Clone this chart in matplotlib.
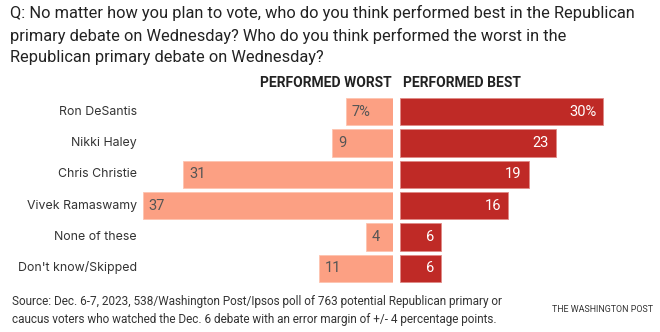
import matplotlib.pyplot as plt

# poll results, percent
candidates = ["Ron DeSantis", "Nikki Haley", "Chris Christie",
              "Vivek Ramaswamy", "None of these", "Don't know/Skipped"]
worst = [7, 9, 31, 37, 4, 11]
best = [30, 23, 19, 16, 6, 6]
worst_labels = ["7%", "9", "31", "37", "4", "11"]
best_labels = ["30%", "23", "19", "16", "6", "6"]

title = ("Q: No matter how you plan to vote, who do you think performed best in the Republican\n"
         "primary debate on Wednesday? Who do you think performed the worst in the\n"
         "Republican primary debate on Wednesday?")
source = ("Source: Dec. 6-7, 2023, 538/Washington Post/Ipsos poll of 763 potential Republican primary or\n"
          "caucus voters who watched the Dec. 6 debate with an error margin of +/- 4 percentage points.")

plt.rcParams["font.family"] = ["Roboto", "DejaVu Sans"]

W, H = 660, 332
fig = plt.figure(figsize=(W / 100, H / 100), dpi=100)

def px_axes(x0, x1, y0, y1):
    return fig.add_axes([x0 / W, 1 - y1 / H, (x1 - x0) / W, (y1 - y0) / H])

worst_color = "#FCA083"
best_color = "#BF2A26"
xmax = 38

ax_w = px_axes(136, 393, 96, 284)
ax_b = px_axes(400, 657, 96, 284)
rows = range(len(candidates))

ax_w.barh(rows, worst, height=0.87, color=worst_color, edgecolor="#FDC4B0", linewidth=0.6)
ax_b.barh(rows, best, height=0.87, color=best_color, edgecolor="#E08A86", linewidth=0.6)

for ax in (ax_w, ax_b):
    ax.set_ylim(len(candidates) - 0.5, -0.5)
    ax.set_xlim(0, xmax)
    ax.axis("off")
ax_w.invert_xaxis()

for i, (v, lab) in enumerate(zip(worst, worst_labels)):
    ax_w.text(v - 0.9, i, lab, ha="left", va="center", fontsize=10.5,
              color="#555555")
for i, (v, lab) in enumerate(zip(best, best_labels)):
    ax_b.text(v - 1.0, i, lab, ha="right", va="center", fontsize=10.5,
              color="white")

for i, name in enumerate(candidates):
    fig.text(137 / W, 1 - (112 + i * 31.2) / H, name, ha="right", va="center",
             fontsize=8.9, color="#333333", family=["Inter", "DejaVu Sans"])

fig.text(392 / W, 1 - 83 / H, "PERFORMED WORST", ha="right", va="center",
         fontsize=10, fontweight="bold", color="#222222")
fig.text(403 / W, 1 - 83 / H, "PERFORMED BEST", ha="left", va="center",
         fontsize=10, fontweight="bold", color="#222222")

fig.text(10 / W, 1 - 5 / H, title, ha="left", va="top", fontsize=11.8,
         color="#222222", linespacing=1.5)
fig.text(12 / W, 1 - 311 / H, source, ha="left", va="center", fontsize=8.5,
         color="#333333", linespacing=1.5)
fig.text(653 / W, 1 - 309 / H, "THE WASHINGTON POST", ha="right", va="center",
         fontsize=6.4, color="#333333")

fig.savefig("out.png", dpi=100, facecolor="white")
